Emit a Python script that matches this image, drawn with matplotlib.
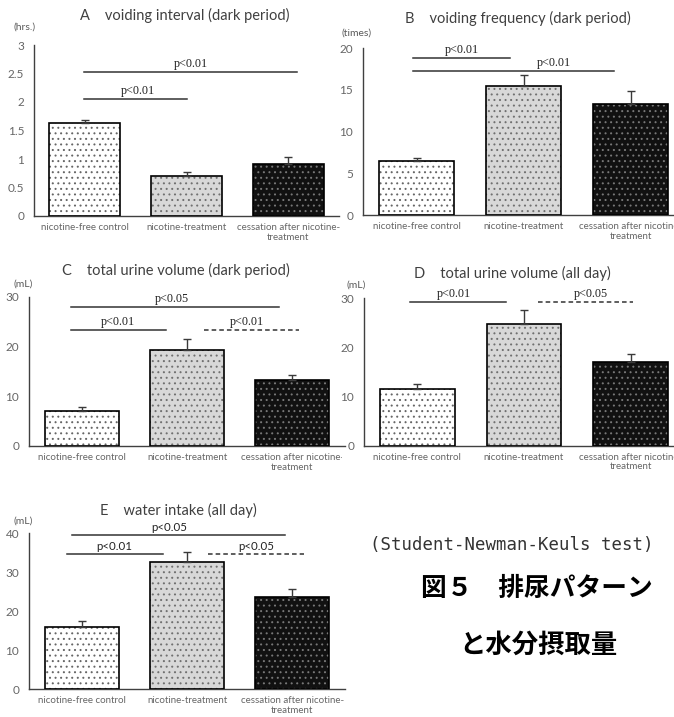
import matplotlib.pyplot as plt
from matplotlib.transforms import Bbox, TransformedBbox

plt.rcParams['font.family'] = ['Lato', 'DejaVu Sans']
plt.rcParams['hatch.linewidth'] = 0.7

W, H = 674, 717

groups = ["nicotine-free control", "nicotine-treatment",
          "cessation after nicotine-\ntreatment"]

# mean and SEM for each group
interval_mean = [1.64, 0.71, 0.91]
interval_sem = [0.04, 0.06, 0.12]
frequency_mean = [6.44, 15.5, 13.3]
frequency_sem = [0.35, 1.3, 1.6]
urine_dark_mean = [7.0, 19.3, 13.25]
urine_dark_sem = [0.9, 2.3, 1.0]
urine_day_mean = [11.6, 24.7, 17.1]
urine_day_sem = [0.9, 3.0, 1.5]
water_mean = [16.0, 32.5, 23.7]
water_sem = [1.5, 2.6, 1.9]

# significance brackets: (x from, x to, level, label, label x, dashed)
brackets_a = [(-0.01, 1.0, 2.05, "p<0.01", 0.52, False),
              (-0.01, 2.09, 2.53, "p<0.01", 1.04, False)]
brackets_b = [(-0.03, 0.87, 18.8, "p<0.01", 0.42, False),
              (-0.03, 1.85, 17.3, "p<0.01", 1.28, False)]
brackets_c = [(-0.1, 0.8, 23.3, "p<0.01", 0.34, False),
              (1.16, 2.06, 23.3, "p<0.01", 1.57, True),
              (-0.1, 1.87, 27.85, "p<0.05", 0.86, False)]
brackets_d = [(-0.07, 0.83, 29.2, "p<0.01", 0.34, False),
              (1.13, 2.02, 29.2, "p<0.05", 1.63, True)]
brackets_e = [(-0.14, 0.77, 34.6, "p<0.01", 0.31, False),
              (1.2, 2.11, 34.6, "p<0.05", 1.66, True),
              (-0.09, 1.93, 39.6, "p<0.05", 0.83, False)]

# fill, hatch colour for the three groups
fills = [("white", "#666666"), ("#d8d8d8", "#707070"), ("#111111", "#777777")]

fig = plt.figure(figsize=(W / 100, H / 100), dpi=100)


def fx(px):
    return px / W


def fy(py):
    return 1 - py / H


def panel(left, right, y0, ytop, ymax, step, means, sems, brackets,
          title, title_xy, unit, unit_xy, serif=True, clip_right=None):
    ax = fig.add_axes([fx(left), fy(y0), fx(right - left), (y0 - ytop) / H])
    x = range(len(means))
    for i in x:
        face, hc = fills[i]
        ax.bar(i, means[i], width=0.7, color=face, edgecolor="none", zorder=2)
        ax.bar(i, means[i], width=0.7, color="none", edgecolor=hc,
               hatch="...", linewidth=0, zorder=3)
        ax.bar(i, means[i], width=0.7, color="none", edgecolor="black",
               linewidth=1.2, zorder=4)
    ax.errorbar(list(x), means, yerr=[[0] * len(sems), sems], fmt="none",
                ecolor="#3a3a3a", elinewidth=1, capsize=3, capthick=1, zorder=5)
    ax.set_xlim(-0.5, 2.5)
    ax.set_ylim(0, ymax)
    ticks = [i * step for i in range(int(round(ymax / step)) + 1)]
    ax.set_yticks(ticks)
    ax.set_yticklabels([f"{t:g}" for t in ticks])
    ax.set_xticks(list(x))
    ax.set_xticklabels(groups, linespacing=1.1)
    ax.tick_params(length=0, colors="#666666")
    ax.tick_params(axis="y", pad=7, labelsize=8.5)
    ax.tick_params(axis="x", pad=5, labelsize=7)
    for s in ("top", "right"):
        ax.spines[s].set_visible(False)
    for s in ("left", "bottom"):
        ax.spines[s].set_color("#404040")
        ax.spines[s].set_linewidth(1)
    font = "Liberation Serif" if serif else "Lato"
    for x0, x1, lvl, lab, tx, dashed in brackets:
        ax.plot([x0, x1], [lvl, lvl], color="#333333", lw=1.1,
                ls=(0, (3, 2)) if dashed else "-", clip_on=False)
        ax.annotate(lab, (tx, lvl), xytext=(0, 1.5), textcoords="offset points",
                    ha="center", va="bottom", fontsize=8.7 if serif else 8.3,
                    family=font, color="#222222", annotation_clip=False)
    fig.text(fx(title_xy[0]), fy(title_xy[1]), title, ha="center",
             va="center", fontsize=10.5, color="#404040")
    fig.text(fx(unit_xy[0]), fy(unit_xy[1]), unit, ha="left", va="center",
             fontsize=7.5, color="#595959")
    if clip_right is not None:
        box = TransformedBbox(Bbox([[0, 0], [fx(clip_right), 1]]), fig.transFigure)
        for lab in ax.get_xticklabels():
            lab.set_clip_box(box)
            lab.set_clip_on(True)
    return ax


panel(34, 339, 216, 45, 3, 0.5, interval_mean, interval_sem, brackets_a,
      "A    voiding interval (dark period)", (185, 15), "(hrs.)", (13, 27),
      clip_right=340)
panel(363, 684, 215, 48.3, 20, 5, frequency_mean, frequency_sem, brackets_b,
      "B    voiding frequency (dark period)", (518, 18), "(times)", (341, 33))
panel(29, 345, 446, 296.7, 30, 10, urine_dark_mean, urine_dark_sem, brackets_c,
      "C    total urine volume (dark period)", (176, 270), "(mL)", (13, 284),
      clip_right=342)
panel(364, 684, 445.7, 298.3, 30, 10, urine_day_mean, urine_day_sem, brackets_d,
      "D    total urine volume (all day)", (512, 273), "(mL)", (347, 285))
panel(29, 345, 689, 533.3, 40, 10, water_mean, water_sem, brackets_e,
      "E    water intake (all day)", (178, 510), "(mL)", (13, 521),
      serif=False)

fig.text(fx(512), fy(545), "(Student-Newman-Keuls test)", ha="center",
         va="center", fontsize=12.5, family="DejaVu Sans Mono", color="#333333")
fig.text(fx(537), fy(588), "図５　排尿パターン", ha="center", va="center",
         fontsize=18.5, fontweight="bold", family="Noto Sans CJK JP", color="black")
fig.text(fx(538), fy(645), "と水分摂取量", ha="center", va="center",
         fontsize=19, fontweight="bold", family="Noto Sans CJK JP", color="black")

fig.savefig("out.png", dpi=100)
